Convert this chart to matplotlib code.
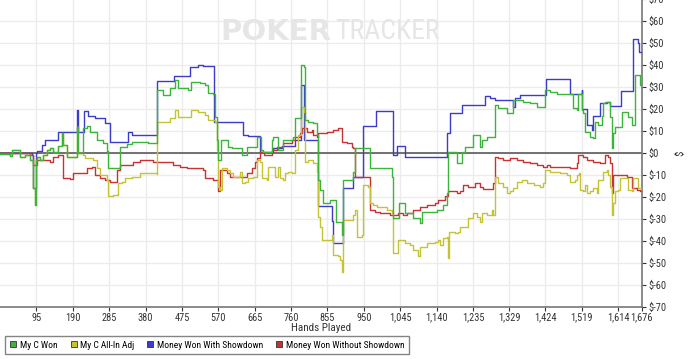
import matplotlib.pyplot as plt
from matplotlib.lines import Line2D
from matplotlib import font_manager

# step series: value holds from each hand until the next one
won_hands = [0, 26, 31, 52, 65, 78, 87, 91, 94, 97, 104, 113, 122, 131, 138, 151, 161, 164, 174, 202, 204,
             217, 226, 235, 252, 269, 279, 282, 313, 331, 344, 386, 411, 426, 444, 457, 465, 491, 500, 522,
             535, 543, 556, 561, 566, 569, 576, 595, 605, 631, 644, 670, 681, 687, 709, 713, 726, 739, 765,
             770, 787, 794, 796, 804, 817, 827, 830, 836, 843, 862, 877, 892, 895, 922, 927, 966, 1023, 1027,
             1042, 1057, 1078, 1097, 1101, 1140, 1157, 1166, 1170, 1192, 1205, 1214, 1235, 1253, 1258, 1271,
             1292, 1300, 1323, 1339, 1366, 1384, 1401, 1423, 1436, 1454, 1496, 1506, 1509, 1519, 1522, 1527,
             1540, 1548, 1554, 1561, 1571, 1575, 1580, 1593, 1597, 1601, 1606, 1623, 1640, 1649, 1658, 1671,
             1675, 1676]
won_vals = [-0.6, -1.4, 1.4, -1.7, -0.9, -3.2, -16, -23.6, -3.2, -1.7, -3.2, -0.9, 1.4, 2.3, 0.6, 3, 9.2, 3.6,
            -1.7, 12, 0, 11.3, 12.3, 9.7, 6, 4.7, 1, -6.9, 2.9, 4, 5, 4.5, 28.6, 26.4, 29.5, 33, 29.5, 28.6,
            32.4, 31.7, 30.9, 27.4, 26.8, 16.5, 6, -3.2, 5.9, 2.9, 2.1, -0.9, 2.9, 7.4, 1.4, 0.6, 6, 7.4, 1.4,
            5.9, 7.4, 15.8, 40, 39.2, 15, 14.2, 13.5, 8.2, -12.3, -16.8, -22.9, -21.4, -31.2, -37.3, -12.3,
            -8.5, 2.1, -7, -10.8, -29.7, -22.7, -27.4, -29.5, -32, -26.7, -25.9, -23.6, -18.3, 0.5, -4.7, 0.5,
            2.9, 8.2, 2.9, 6, 7.4, 21.8, 20.5, 18, 24, 23.3, 22.5, 21, 28.6, 27.9, 27, 20.3, 19.5, 27, 19.5,
            18, 9.7, 7.4, 6.7, 14.2, 12.7, 17, 22.6, 23.3, 16.5, 2.1, 9, 12, 18.8, 16.5, 12.7, 35.5, 31, 29.4,
            29.4]

allin_hands = [0, 26, 31, 52, 65, 78, 87, 91, 94, 97, 104, 113, 122, 131, 138, 151, 161, 164, 174, 202, 204,
               217, 222, 243, 252, 261, 279, 283, 296, 309, 318, 326, 344, 366, 409, 411, 444, 457, 465, 500,
               517, 535, 543, 561, 566, 569, 574, 579, 592, 600, 609, 627, 631, 640, 648, 661, 670, 679, 683,
               696, 701, 714, 718, 727, 731, 740, 744, 753, 762, 770, 779, 787, 794, 796, 805, 818, 827, 831,
               836, 840, 866, 870, 883, 888, 892, 896, 922, 927, 931, 945, 949, 961, 966, 975, 984, 1010, 1023,
               1027, 1040, 1057, 1071, 1079, 1092, 1097, 1114, 1136, 1144, 1149, 1157, 1166, 1169, 1172, 1179,
               1188, 1197, 1201, 1219, 1223, 1236, 1245, 1253, 1258, 1271, 1284, 1288, 1292, 1301, 1314, 1323,
               1332, 1340, 1349, 1362, 1375, 1393, 1410, 1419, 1423, 1436, 1462, 1480, 1488, 1501, 1506, 1512,
               1514, 1523, 1527, 1532, 1541, 1549, 1558, 1562, 1575, 1584, 1588, 1593, 1597, 1601, 1606, 1614,
               1619, 1636, 1640, 1649, 1654, 1662, 1667, 1676]
allin_vals = [-0.6, -1.4, 1.4, -1.7, -0.9, -3.2, -16, -23.6, -3.2, -1.7, -3.2, -0.9, 1.4, 2.3, 0.6, 3, 9.2, 3.6,
              -1.7, 12, 0, -0.9, -2.4, -3.2, -7, -10, -12.3, -19.8, -19, -13.8, -13, -11.5, -10.8, -9.2, -9.7,
              14.2, 15.8, 19.5, 16.5, 19.5, 18.8, 17.3, 15, 14.2, 1.4, -15.3, -16.8, -7, -7.7, -9.2, -10.8,
              -8.5, -13.8, -13, -11.5, -10.8, -3.2, -3.9, -11.5, -12.3, -6.2, -6.2, -10.8, -6.2, -11.5, -12.3,
              -9.2, -8.5, -9.2, 1.4, 8.2, 21, 18.8, -3.9, -3.2, -4.7, -8.5, -29, -33.5, -39.5, -37.3, -46.4,
              -47, -48.6, -54, -30.5, -28.2, -25.9, -38, -37.3, -14.5, -15.3, -22.9, -23.6, -24.4, -25.9,
              -27.4, -45.6, -39.5, -41, -41.8, -44, -47, -42.6, -41, -40.3, -39.5, -41.8, -38.8, -38, -47.9,
              -36, -35.8, -36.5, -35.8, -33.5, -33.5, -29.5, -27.4, -28.9, -31.2, -27.4, -28.2, -25.9, -28.2,
              -10.8, -13.8, -15.3, -18.3, -17.5, -16, -13, -12.3, -13.8, -14.5, -15.3, -13.8, -7.7, -8.5, -9.2,
              -10, -13, -12.3, -10, -9.2, -16.8, -17.5, -14.5, -18.3, -17.5, -16, -18.3, -12.3, -8.5, -7.7,
              -10, -15.3, -28.2, -22.7, -17.5, -16.8, -11.5, -11.5, -16.8, -17.5, -11.5, -11.5, -16, -18.3]

sd_hands = [0, 84, 87, 94, 97, 110, 117, 151, 200, 204, 219, 230, 248, 274, 287, 334, 344, 411, 454, 496, 517,
            530, 559, 634, 648, 679, 713, 736, 770, 787, 794, 830, 866, 869, 895, 922, 948, 982, 1025, 1036,
            1057, 1168, 1175, 1205, 1266, 1279, 1292, 1339, 1345, 1358, 1425, 1487, 1519, 1520, 1532, 1533,
            1545, 1548, 1567, 1584, 1593, 1621, 1654, 1666, 1668, 1676]
sd_vals = [0, -1, -16, 0, 1, 3.6, 6, 9.7, 19.5, 9.7, 19, 17, 16, 13.6, 5.1, 9.7, 8.2, 32.9, 35, 39, 40, 39.5,
           14, 8.3, 7.7, 0.5, 2.3, 3, 6, 31, 6, -24, -31, -41, -16, -10.8, 12.3, 19.2, -1, 3, -2, 9, 18, 22,
           26, 25, 24, 21, 25, 26.4, 33.6, 27, 28.6, 20, 19.5, 12.7, 10.5, 17, 22.7, 23.3, 21.4, 28.3, 51.8,
           50, 45.8, 45.8]

nsd_hands = [0, 78, 87, 96, 131, 139, 152, 165, 183, 191, 226, 239, 248, 261, 274, 287, 305, 313, 348, 366,
             400, 413, 452, 470, 487, 531, 535, 557, 570, 574, 592, 600, 644, 657, 666, 670, 679, 688, 709,
             722, 740, 762, 770, 783, 788, 801, 814, 818, 827, 831, 853, 870, 883, 892, 905, 918, 922, 927,
             966, 979, 992, 1018, 1040, 1053, 1062, 1079, 1097, 1114, 1136, 1144, 1162, 1171, 1192, 1201,
             1210, 1223, 1240, 1253, 1262, 1288, 1292, 1301, 1314, 1332, 1349, 1366, 1384, 1401, 1419, 1427,
             1436, 1488, 1506, 1510, 1523, 1532, 1549, 1567, 1580, 1588, 1593, 1597, 1601, 1636, 1649, 1662,
             1671, 1676]
nsd_vals = [0, -1, -5.5, -3.2, -3.9, -1.7, -0.9, -11.5, -12, -9.2, -7, -6.5, -10, -11.5, -12.3, -13, -7.7,
            -5.5, -3.9, -3.2, -3.9, -3.9, -5.5, -6.2, -7, -7.7, -11.5, -12.3, -17.5, -7.7, -9.2, -10.8, -9.2,
            -7, -3.9, -2.4, 0.6, -0.9, 1.4, 2.9, 4.4, 6, 7.4, 9, 11.2, 9.7, 10.5, 8.2, 7.4, 9, 9.7, 10.5, 11.2,
            5.1, 4.4, 2.9, 2.1, -10.8, -25.9, -26.7, -27.4, -28.2, -27.4, -28.2, -27.4, -26, -24.4, -23.6,
            -22.9, -21.4, -19.8, -17.5, -18.3, -17.5, -14.5, -15.3, -13.8, -15.3, -16.5, -13.8, -1.7, -2.4,
            -3.2, -2.4, -3.2, -3.9, -4.7, -5.5, -6.2, -5.5, -6.2, -7, -4.7, -0.9, -1.7, -3.2, -3.9, -4.7, -0.9,
            -1.7, -4.7, -18.3, -10, -10.8, -16, -16.8, -17.5, -18.3]

x_ticks = [95, 190, 285, 380, 475, 570, 665, 760, 855, 950, 1045, 1140, 1235, 1329, 1424, 1519, 1614, 1676]
y_ticks = list(range(-70, 71, 10))

names = {f.name for f in font_manager.fontManager.ttflist}
narrow = "Liberation Sans Narrow" if "Liberation Sans Narrow" in names else "Roboto Condensed"
if narrow not in names:
    narrow = "Liberation Sans"
plt.rcParams["font.family"] = [narrow, "DejaVu Sans"]

c_won, c_allin, c_sd, c_nsd = "#3cb43c", "#c3c335", "#3c3cc8", "#c83232"

fig = plt.figure(figsize=(7, 3.59), dpi=100)
ax = fig.add_axes([0, 0.145, 0.917, 0.858])
ax.set_xlim(0, 1676)
ax.set_ylim(-70, 70)

ax.plot(sd_hands, sd_vals, drawstyle="steps-post", color=c_sd, lw=1, zorder=3)
ax.plot(nsd_hands, nsd_vals, drawstyle="steps-post", color=c_nsd, lw=1, zorder=3)
ax.plot(allin_hands, allin_vals, drawstyle="steps-post", color=c_allin, lw=1, zorder=3)
ax.plot(won_hands, won_vals, drawstyle="steps-post", color=c_won, lw=1, zorder=4)
ax.axhline(0, color="#666666", lw=1.3, zorder=2)

ax.set_xticks(x_ticks)
ax.set_xticklabels([f"{v:,}" for v in x_ticks])
ax.set_yticks(y_ticks)
ax.set_yticklabels([f"${v}" for v in y_ticks])
ax.yaxis.tick_right()
ax.yaxis.set_label_position("right")
ax.grid(color="#ececec", lw=1, zorder=0)
ax.set_axisbelow(True)
for s in ["top", "left"]:
    ax.spines[s].set_visible(False)
for s in ["right", "bottom"]:
    ax.spines[s].set_color("#777777")
    ax.spines[s].set_linewidth(1.2)
ax.tick_params(axis="both", labelsize=7.5, colors="#333333", length=3, width=0.8, pad=2)
ax.tick_params(axis="x", direction="out", pad=1)
ax.set_xlabel("Hands Played", fontsize=8, color="#333333", labelpad=0)
ax.set_ylabel("$", fontsize=8, color="#333333", labelpad=6)

ax.text(0.343, 0.893, "POKER", transform=ax.transAxes, fontsize=21, fontweight="bold",
        family="DejaVu Sans", color="#e6e6e6", va="center", ha="left", zorder=1)
ax.text(0.522, 0.893, "TRACKER", transform=ax.transAxes, fontsize=20,
        color="#e6e6e6", va="center", ha="left", zorder=1)

handles = [Line2D([], [], ls="none", marker="s", markersize=5, markerfacecolor=c, markeredgecolor="#333333",
                  markeredgewidth=0.6) for c in [c_won, c_allin, c_sd, c_nsd]]
labels = ["My C Won", "My C All-In Adj", "Money Won With Showdown", "Money Won Without Showdown"]
leg = fig.legend(handles, labels, loc="lower left", bbox_to_anchor=(0.0, 0.0), ncol=4, fontsize=6.8,
                 frameon=True, fancybox=False, edgecolor="#666666", handlelength=0.8, handletextpad=0.3,
                 columnspacing=1.3, borderpad=0.5)
leg.get_frame().set_linewidth(1)

fig.savefig("out.png", dpi=100)
